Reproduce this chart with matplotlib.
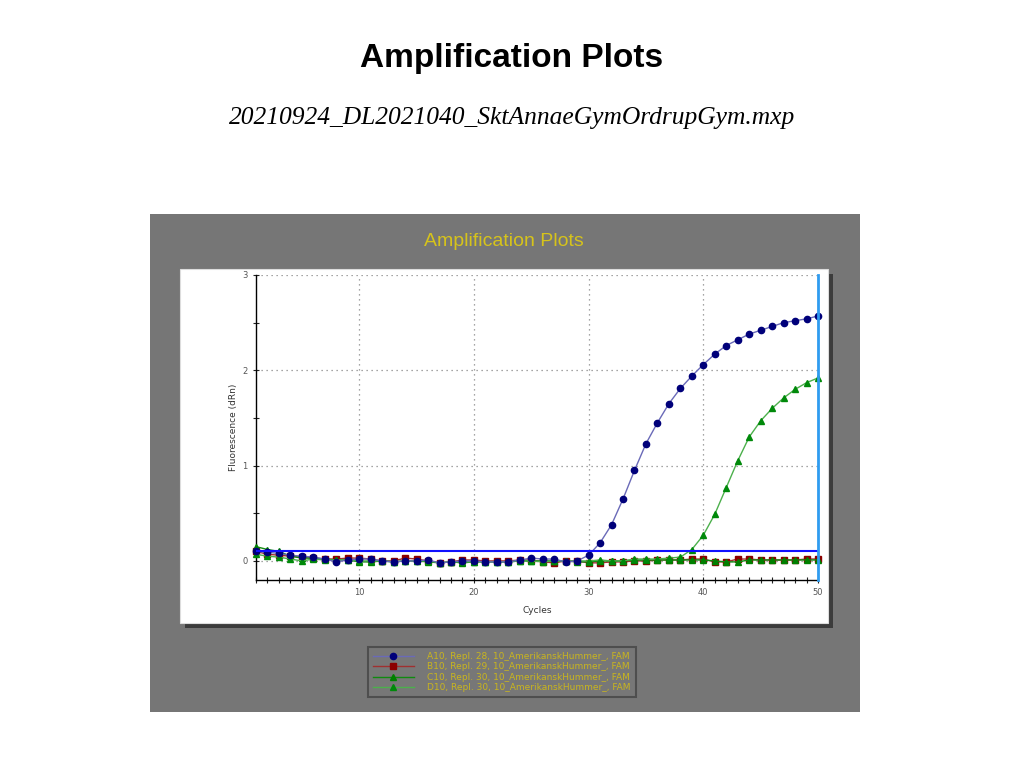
import matplotlib
matplotlib.use('Agg')
import matplotlib.pyplot as plt
from matplotlib.patches import Rectangle
from matplotlib.ticker import MultipleLocator

# Data (cycle 1..50, fluorescence dRn)
cycles = list(range(1, 51))

a10 = [0.10, 0.09, 0.08, 0.06, 0.05, 0.04, 0.02, -0.01, 0.01, 0.02,
       0.02, 0.00, -0.01, 0.00, 0.00, 0.01, -0.02, -0.01, 0.00, 0.00,
       -0.01, -0.01, -0.01, 0.01, 0.03, 0.02, 0.02, -0.01, 0.00, 0.06,
       0.19, 0.38, 0.65, 0.95, 1.23, 1.45, 1.65, 1.81, 1.94, 2.06,
       2.17, 2.26, 2.32, 2.38, 2.42, 2.46, 2.50, 2.52, 2.54, 2.57]

b10 = [0.10, 0.07, 0.06, 0.05, 0.04, 0.03, 0.02, 0.02, 0.03, 0.03,
       0.02, 0.00, 0.00, 0.03, 0.02, 0.00, -0.02, -0.01, 0.01, 0.01,
       0.00, 0.00, 0.00, 0.01, 0.01, -0.01, -0.02, 0.00, 0.00, -0.02,
       -0.02, -0.01, -0.01, 0.00, 0.00, 0.01, 0.01, 0.01, 0.02, 0.02,
       -0.01, -0.01, 0.02, 0.02, 0.01, 0.01, 0.01, 0.01, 0.02, 0.02]

c10 = [0.15, 0.12, 0.10, 0.05, 0.03, 0.03, 0.02, 0.01, 0.01, -0.01,
       -0.01, 0.00, -0.01, 0.00, 0.00, -0.01, -0.02, -0.01, -0.02, -0.01,
       -0.01, -0.01, -0.01, 0.00, 0.00, 0.00, 0.00, 0.00, -0.01, -0.01,
       0.00, 0.00, 0.00, 0.01, 0.01, 0.01, 0.01, 0.01, 0.01, 0.01,
       0.00, -0.01, -0.01, 0.01, 0.01, 0.01, 0.01, 0.01, 0.01, 0.01]

d10 = [0.07, 0.05, 0.04, 0.02, 0.00, 0.02, 0.01, 0.01, 0.01, 0.00,
       0.00, 0.00, -0.01, 0.00, 0.00, 0.00, -0.02, -0.01, -0.01, -0.01,
       -0.01, -0.01, -0.01, 0.00, 0.00, -0.01, 0.00, 0.00, 0.00, 0.00,
       0.01, 0.00, 0.00, 0.02, 0.02, 0.02, 0.03, 0.04, 0.12, 0.27,
       0.49, 0.77, 1.05, 1.30, 1.47, 1.60, 1.71, 1.80, 1.87, 1.92]

labels = ['A10, Repl. 28, 10_AmerikanskHummer_, FAM',
          'B10, Repl. 29, 10_AmerikanskHummer_, FAM',
          'C10, Repl. 30, 10_AmerikanskHummer_, FAM',
          'D10, Repl. 30, 10_AmerikanskHummer_, FAM']

threshold = 0.105

W, H = 1024, 768
fig = plt.figure(figsize=(W / 100, H / 100), dpi=100)
fig.patch.set_facecolor('white')

def fx(px):
    return px / W

def fy(py):
    return 1 - py / H

# page titles
fig.text(0.5, fy(58), 'Amplification Plots', ha='center', va='center',
         fontsize=24, fontweight='bold', family='Liberation Sans')
fig.text(0.5, fy(118), '20210924_DL2021040_SktAnnaeGymOrdrupGym.mxp',
         ha='center', va='center', fontsize=18.4, style='italic',
         family='Liberation Serif')

# grey screenshot panel, shadow and white plot panel
fig.patches.append(Rectangle((fx(150), fy(712)), fx(710), 498 / H,
                             transform=fig.transFigure, facecolor='#767676',
                             edgecolor='none', zorder=-3))
fig.patches.append(Rectangle((fx(185), fy(628)), fx(648), 354 / H,
                             transform=fig.transFigure, facecolor='#3c3c3c',
                             edgecolor='none', zorder=-2))
fig.patches.append(Rectangle((fx(180), fy(623)), fx(648), 354 / H,
                             transform=fig.transFigure, facecolor='white',
                             edgecolor='#dddddd', lw=0.8, zorder=-1))

fig.text(fx(504), fy(241), 'Amplification Plots', ha='center', va='center',
         fontsize=14, color='#D6C31B', family='Liberation Sans')

ax = fig.add_axes([fx(256), fy(580), fx(818 - 256), (580 - 275) / H])
ax.set_zorder(1)
ax.set_facecolor('white')

l1, = ax.plot(cycles, a10, color='#6a6ab8', lw=1, marker='o', ms=4.5,
              mfc='#00007a', mec='#00007a', zorder=4, clip_on=False)
l2, = ax.plot(cycles, b10, color='#a03030', lw=1, marker='s', ms=4,
              mfc='#8b0000', mec='#8b0000', zorder=3, clip_on=False)
l3, = ax.plot(cycles, c10, color='#108a10', lw=1, marker='^', ms=4.5,
              mfc='#008000', mec='#008000', zorder=3, clip_on=False)
l4, = ax.plot(cycles, d10, color='#4cb04c', lw=1, marker='^', ms=4.5,
              mfc='#00890a', mec='#00890a', zorder=3, clip_on=False)

ax.axhline(threshold, xmin=0, xmax=1, color='#1010ff', lw=1.5, zorder=5)
ax.axvline(50, color='#2f9cf0', lw=2, zorder=5, clip_on=False)

ax.set_xlim(1, 50)
ax.set_ylim(-0.2, 3)
ax.set_xticks([10, 20, 30, 40, 50])
ax.xaxis.set_minor_locator(MultipleLocator(1))
ax.set_yticks([0, 1, 2, 3])
ax.yaxis.set_minor_locator(MultipleLocator(0.5))
ax.tick_params(which='both', direction='inout', labelsize=6,
               colors='#222222', labelcolor='#555555')
ax.tick_params(which='major', length=5, width=0.8)
ax.tick_params(which='minor', length=5, width=0.8)
ax.grid(True, which='major', color='#888888', linestyle=(0, (1, 3)), lw=0.9)

for s in ['top', 'right']:
    ax.spines[s].set_visible(False)
ax.spines['left'].set_linewidth(1)
ax.spines['bottom'].set_linewidth(1)

ax.set_xlabel('Cycles', fontsize=6.5, color='#333333', labelpad=6)
ax.set_ylabel('Fluorescence (dRn)', fontsize=6.5, color='#333333', labelpad=3)

leg = fig.legend([l1, l2, l3, l4], labels, loc='center',
                 bbox_to_anchor=(fx(502), fy(672)), fontsize=6.5,
                 frameon=True, fancybox=False, handlelength=4.5,
                 labelspacing=0.15, borderpad=0.6, handletextpad=1.5)
leg.get_frame().set_facecolor('#777777')
leg.get_frame().set_edgecolor('#4e4e4e')
leg.get_frame().set_linewidth(1.5)
leg.get_frame().set_alpha(1)
for t in leg.get_texts():
    t.set_color('#C9B51E')

fig.savefig('out.png', dpi=100, facecolor='white')
